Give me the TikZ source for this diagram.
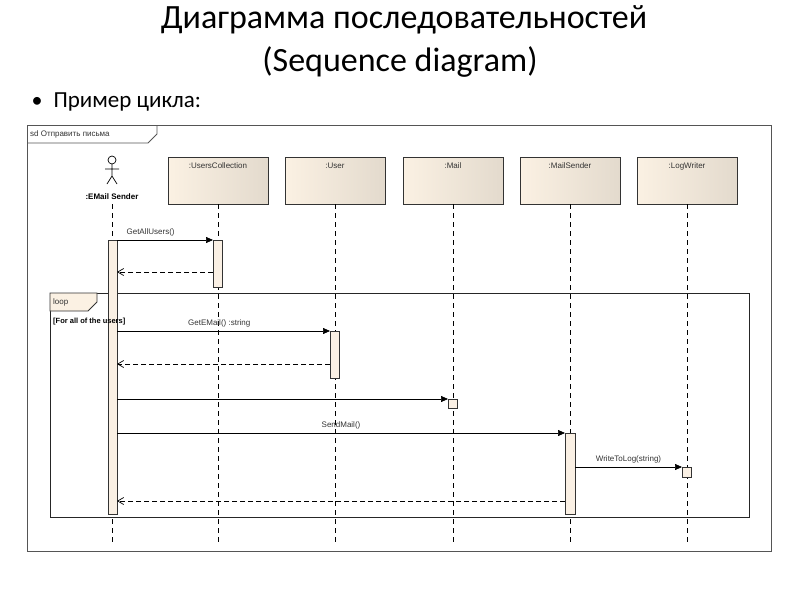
\documentclass[tikz,border=0pt]{standalone}
\usepackage{fontspec}
\setmainfont{Carlito}
\newfontfamily\uml{Liberation Sans}
\usetikzlibrary{arrows.meta}
\definecolor{bxl}{HTML}{FBF1E3}
\definecolor{bxr}{HTML}{E3DACD}
\definecolor{act}{HTML}{FAF0E4}
\definecolor{fr}{HTML}{555555}
\begin{document}
\begin{tikzpicture}[x=1pt,y=-1pt,
  obj/.style={draw=black!80,line width=0.9pt,left color=bxl,right color=bxr,minimum width=100pt,minimum height=47pt,inner sep=0pt},
  lbl/.style={font=\uml\fontsize{8}{9}\selectfont,text=black!80},
  life/.style={dashed,line width=0.8pt,dash pattern=on 5pt off 4pt},
  actv/.style={draw=black!80,fill=act,line width=0.8pt},
  msg/.style={line width=0.7pt,-{Triangle[length=7pt,width=6pt]}},
  ret/.style={line width=0.7pt,dashed,dash pattern=on 5pt off 3pt,-{Straight Barb[length=6pt,width=7pt]}}]
\useasboundingbox (0,0) rectangle (800,600);
\node (t1) at (404,20) {\fontsize{34}{36}\selectfont Диаграмма последовательностей};
\node (t2) at (400,62) {\fontsize{34}{36}\selectfont (Sequence diagram)};
\node (b) at (37,102) {\fontsize{22}{24}\selectfont •};
\node[anchor=west] (p) at (50,102) {\fontsize{23}{25}\selectfont Пример цикла:};
% outer frame
\draw[fr,line width=1pt] (27,125) rectangle (771,551);
\draw[fr,line width=0.8pt] (27,143) -- (148,143) -- (157,134) -- (157,125);
\node[lbl,anchor=west,inner sep=1pt] (sd) at (29,134) {sd Отправить письма};
% actor
\draw[line width=0.7pt] (112,160) circle (4);
\draw[line width=0.7pt] (112,164) -- (112,176) (105,169) -- (119,169) (107,184) -- (112,176) -- (117,184);
\node[font=\uml\bfseries\fontsize{8}{9}\selectfont] (actor) at (112,197) {:EMail Sender};
% objects
\foreach \n/\x/\t in {uc/218/:UsersCollection,us/335/:User,ml/453/:Mail,ms/570/:MailSender,lw/687/:LogWriter}{
  \node[obj] (\n) at (\x,180.5) {};
  \node[lbl,anchor=base] at (\x,168) {\t};
  \coordinate (\n e) at (\x,545);
  \draw[life] (\n.south) -- (\n e);
}
\coordinate (ae) at (112,545);
\draw[life] (112,204) -- (ae);
% loop frame
\draw[black!85,line width=1pt] (50,293) rectangle (749,517);
\draw[black!80,line width=0.8pt,fill=bxl] (50,293) -- (97,293) -- (97,302) -- (88,311) -- (50,311) -- cycle;
\node[lbl,anchor=west,inner sep=1pt] (lp) at (52,302) {loop};
% activations
\draw[actv] (108,240) rectangle (117,514);
\draw[actv] (213,240) rectangle (222,287);
\draw[actv] (330,331) rectangle (339,378);
\draw[actv] (448,399) rectangle (457,408);
\draw[actv] (565,433) rectangle (575,514);
\draw[actv] (682,467) rectangle (691,477);
\node[font=\uml\bfseries\fontsize{7.5}{8}\selectfont,anchor=west,inner sep=1pt] (g) at (52,322) {[For all of the users]};
% messages
\coordinate (m1a) at (117,240); \coordinate (m1b) at (213,240);
\draw[msg] (m1a) -- node[lbl,above,pos=0.35]{GetAllUsers()} (m1b);
\coordinate (r1a) at (213,272); \coordinate (r1b) at (117,272);
\draw[ret] (r1a) -- (r1b);
\coordinate (m2a) at (117,331); \coordinate (m2b) at (330,331);
\draw[msg] (m2a) -- node[lbl,above,pos=0.48]{GetEMail() :string} (m2b);
\coordinate (r2a) at (330,364); \coordinate (r2b) at (117,364);
\draw[ret] (r2a) -- (r2b);
\coordinate (m3a) at (117,399); \coordinate (m3b) at (448,399);
\draw[msg] (m3a) -- (m3b);
\coordinate (m4a) at (117,433); \coordinate (m4b) at (565,433);
\draw[msg] (m4a) -- node[lbl,above,pos=0.5]{SendMail()} (m4b);
\coordinate (m5a) at (575,467); \coordinate (m5b) at (682,467);
\draw[msg] (m5a) -- node[lbl,above,pos=0.5]{WriteToLog(string)} (m5b);
\coordinate (r3a) at (565,501); \coordinate (r3b) at (117,501);
\draw[ret] (r3a) -- (r3b);
\end{tikzpicture}
\end{document}
